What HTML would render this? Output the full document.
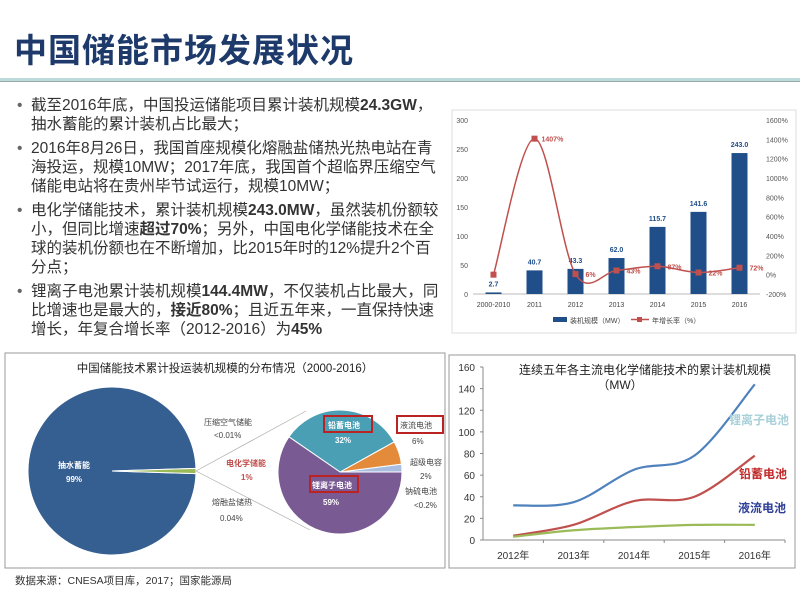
<!DOCTYPE html>
<html><head><meta charset="utf-8"><style>
body{margin:0;width:800px;height:600px;overflow:hidden;background:#fff;font-family:"Liberation Sans","Noto Sans CJK SC",sans-serif;position:relative}
.title{position:absolute;left:14px;top:24px;font-size:33px;font-weight:bold;color:#1d3a6b;letter-spacing:1px}
.rule{position:absolute;left:0;top:78px;width:800px;height:3px;background:#bcd9dc;border-bottom:1px solid #9aa}
.bullets{position:absolute;left:17px;top:96px;width:428px;font-size:15.5px;line-height:19px;color:#333}
.b{position:relative;padding-left:14px;margin-bottom:5px}
.b:before{content:"•";position:absolute;left:0;top:0;color:#666}
.src{position:absolute;left:15px;top:573px;font-size:10.5px;color:#333}
svg text{font-family:"Liberation Sans","Noto Sans CJK SC",sans-serif}
</style></head><body>
<div class="title">中国储能市场发展状况</div>
<div class="rule"></div>
<div class="bullets">
<div class="b">截至2016年底，中国投运储能项目累计装机规模<b>24.3GW</b>，抽水蓄能的累计装机占比最大；</div>
<div class="b">2016年8月26日，我国首座规模化熔融盐储热光热电站在青海投运，规模10MW；2017年底，我国首个超临界压缩空气储能电站将在贵州毕节试运行，规模10MW；</div>
<div class="b">电化学储能技术，累计装机规模<b>243.0MW</b>，虽然装机份额较小，但同比增速<b>超过70%</b>；另外，中国电化学储能技术在全球的装机份额也在不断增加，比2015年时的12%提升2个百分点；</div>
<div class="b">锂离子电池累计装机规模<b>144.4MW</b>，不仅装机占比最大，同比增速也是最大的，<b>接近80%</b>；且近五年来，一直保持快速增长，年复合增长率（2012-2016）为<b>45%</b></div>
</div>
<svg id="bar" width="800" height="600" style="position:absolute;left:0;top:0">
<rect x="452" y="110" width="344" height="223" fill="none" stroke="#ddd"/>
</svg>
<svg id="pie" width="800" height="600" style="position:absolute;left:0;top:0">
<rect x="5" y="353" width="440" height="215" fill="none" stroke="#999"/>
<text x="225" y="372" font-size="11.5" text-anchor="middle" fill="#222">中国储能技术累计投运装机规模的分布情况（2000-2016）</text>
</svg>
<svg id="line" width="800" height="600" style="position:absolute;left:0;top:0">
<rect x="449" y="355" width="346" height="213" fill="none" stroke="#999"/>
<text x="645" y="374" font-size="12" text-anchor="middle" fill="#222">连续五年各主流电化学储能技术的累计装机规模</text>
<text x="620" y="389" font-size="12" text-anchor="middle" fill="#222">（MW）</text>
</svg>
<div class="src">数据来源：CNESA项目库，2017；国家能源局</div>
<script>
// Bar chart data
const barCats=["2000-2010","2011","2012","2013","2014","2015","2016"];
const barVals=[2.7,40.7,43.3,62.0,115.7,141.6,243.0];
const growthVals=[0,1407,6,43,87,22,72];
const leftTicks=[0,50,100,150,200,250,300];
const rightTicks=[-200,0,200,400,600,800,1000,1200,1400,1600];
// Pie data
const bigLabels=["抽水蓄能","电化学储能"];
const bigVals=[99,1];
const smallLabels=["超级电容","液流电池","铅蓄电池","锂离子电池"];
const smallVals=[2,6,32,59];
// Line chart data
const years=["2012年","2013年","2014年","2015年","2016年"];
const liIon=[32,35,65,78,144];
const lead=[4,14,36,40,78];
const flow=[3,9,12,14,14];
const lineTicks=[0,20,40,60,80,100,120,140,160];
const NS="http://www.w3.org/2000/svg";
function mk(svg,tag,a,txt){const e=document.createElementNS(NS,tag);for(const k in a)e.setAttribute(k,a[k]);if(txt!==undefined)e.textContent=txt;svg.appendChild(e);return e;}
function smooth(p){let d="M"+p[0][0]+","+p[0][1];for(let i=0;i<p.length-1;i++){const p0=p[i-1]||p[i],p1=p[i],p2=p[i+1],p3=p[i+2]||p2;const t=6;d+=" C"+(p1[0]+(p2[0]-p0[0])/t)+","+(p1[1]+(p2[1]-p0[1])/t)+" "+(p2[0]-(p3[0]-p1[0])/t)+","+(p2[1]-(p3[1]-p1[1])/t)+" "+p2[0]+","+p2[1];}return d;}
// ---- bar chart
(function(){const s=document.getElementById('bar');
const x0=473,x1=760,yb=294,yt=120;
const yL=v=>yb-(v/300)*(yb-yt);const yR=v=>yb-((v+200)/1800)*(yb-yt);
const bw=(x1-x0)/barCats.length;const cx=i=>x0+bw*(i+0.5);
leftTicks.forEach(t=>{const e=mk(s,'text',{x:468,y:yL(t)+3,'font-size':7,'text-anchor':'end',fill:'#555'},t);});
rightTicks.forEach(t=>{const e=mk(s,'text',{x:766,y:yR(t)+3,'font-size':7,fill:'#555'},t+'%');});
mk(s,'line',{x1:x0,x2:x1,y1:yb,y2:yb,stroke:'#bbb'});
barCats.forEach((c,i)=>{const v=barVals[i];
const r=mk(s,'rect',{x:cx(i)-8,y:yL(v),width:16,height:yb-yL(v),fill:'#1f4e89'});
const l=mk(s,'text',{x:cx(i),y:yL(v)-6,'font-size':7,'font-weight':'bold','text-anchor':'middle',fill:'#1f4e89'},v.toFixed(1));
const cl=mk(s,'text',{x:cx(i),y:307,'font-size':7,'text-anchor':'middle',fill:'#444'},c);});
const pts=growthVals.map((v,i)=>[cx(i),yR(v)]);
const p=mk(s,'path',{d:smooth(pts),fill:'none',stroke:'#c0504d','stroke-width':1.5});
growthVals.forEach((v,i)=>{const m=mk(s,'rect',{x:pts[i][0]-3,y:pts[i][1]-3,width:6,height:6,fill:'#c0504d'});
if(i>0){const t=mk(s,'text',{x:pts[i][0]+(i==1?7:10),y:pts[i][1]+3,'font-size':7,'font-weight':'bold',fill:'#c0504d'},v+'%');}});
const lg1=mk(s,'rect',{x:553,y:317,width:14,height:5,fill:'#1f4e89'});
const lt1=mk(s,'text',{x:570,y:323,'font-size':7,fill:'#444'},'装机规模（MW）');
mk(s,'line',{x1:631,x2:649,y1:319.5,y2:319.5,stroke:'#c0504d','stroke-width':1.5});mk(s,'rect',{x:637,y:317,width:5,height:5,fill:'#c0504d'});
const lt2=mk(s,'text',{x:652,y:323,'font-size':7,fill:'#444'},'年增长率（%）');
})();
// ---- pie chart
(function(){const s=document.getElementById('pie');
function arc(cx,cy,r,a0,a1,fill,name){const rad=a=>a*Math.PI/180;const p0=[cx+r*Math.cos(rad(a0)),cy-r*Math.sin(rad(a0))],p1=[cx+r*Math.cos(rad(a1)),cy-r*Math.sin(rad(a1))];const lg=(a1-a0)>180?1:0;
const e=mk(s,'path',{d:`M${cx},${cy} L${p0[0]},${p0[1]} A${r},${r} 0 ${lg} 0 ${p1[0]},${p1[1]} Z`,fill:fill,stroke:'#fff','stroke-width':1});}
const bt=bigVals.reduce((a,b)=>a+b,0);const smallDeg=bigVals[1]/bt*360;
arc(112,471,84,smallDeg/2,360-smallDeg/2,'#365f91','slice-pumped-hydro');
arc(112,471,84,-smallDeg/2,smallDeg/2,'#9bbb59','slice-electrochemical');
const cols=['#a9bde0','#e38b3a','#4a9fb5','#7a5a93'];const st=smallVals.reduce((a,b)=>a+b,0);let a=0;
smallVals.forEach((v,i)=>{const d=i==smallVals.length-1?360-a:v/st*360;arc(340,472,62,a,a+d,cols[i],'slice-'+smallLabels[i]);a+=d;});
mk(s,'line',{x1:196,y1:471,x2:306,y2:411,stroke:'#aaa','stroke-width':0.7});mk(s,'line',{x1:196,y1:471,x2:310,y2:530,stroke:'#aaa','stroke-width':0.7});
const T=(x,y,t,o,n)=>{const e=mk(s,'text',Object.assign({x:x,y:y,'font-size':8,fill:'#444'},o||{}),t);};
T(58,468,'抽水蓄能',{fill:'#fff','font-weight':'bold'},'label-pumped');T(66,482,'99%',{fill:'#fff','font-weight':'bold'},'label-pumped-pct');
T(204,425,'压缩空气储能',{},'label-caes');T(214,438,'<0.01%',{},'label-caes-pct');
T(212,505,'熔融盐储热',{},'label-salt');T(220,521,'0.04%',{},'label-salt-pct');
T(226,466,'电化学储能',{fill:'#c0504d','font-weight':'bold'},'label-electrochem');T(241,480,'1%',{fill:'#c0504d','font-weight':'bold'},'label-electrochem-pct');
mk(s,'rect',{x:324,y:416,width:48,height:16,fill:'none',stroke:'#b22','stroke-width':2});T(328,428,'铅蓄电池',{fill:'#fff','font-weight':'bold'},'label-lead');T(335,443,'32%',{fill:'#fff','font-weight':'bold'},'label-lead-pct');
mk(s,'rect',{x:310,y:476,width:48,height:16,fill:'none',stroke:'#b22','stroke-width':2});T(312,488,'锂离子电池',{fill:'#fff','font-weight':'bold'},'label-li');T(323,505,'59%',{fill:'#fff','font-weight':'bold'},'label-li-pct');
mk(s,'rect',{x:397,y:416,width:46,height:17,fill:'none',stroke:'#b22','stroke-width':2});T(400,428,'液流电池',{},'label-flow');T(412,444,'6%',{},'label-flow-pct');
T(410,465,'超级电容',{},'label-supercap');T(420,479,'2%',{},'label-supercap-pct');
T(405,494,'钠硫电池',{},'label-nas');T(414,508,'<0.2%',{},'label-nas-pct');
})();
// ---- line chart
(function(){const s=document.getElementById('line');
const x0=483,x1=785,yb=540,yt=367;const y=v=>yb-v/160*(yb-yt);const bw=(x1-x0)/years.length;const cx=i=>x0+bw*(i+0.5);
mk(s,'line',{x1:x0,x2:x0,y1:yt,y2:yb,stroke:'#888'});mk(s,'line',{x1:x0,x2:x1,y1:yb,y2:yb,stroke:'#888'});
lineTicks.forEach(t=>{mk(s,'line',{x1:x0-3,x2:x0,y1:y(t),y2:y(t),stroke:'#888'});const e=mk(s,'text',{x:x0-8,y:y(t)+4,'font-size':10,'text-anchor':'end',fill:'#333'},t);});
years.forEach((c,i)=>{mk(s,'line',{x1:x0+bw*(i+1),x2:x0+bw*(i+1),y1:yb,y2:yb+3,stroke:'#888'});const e=mk(s,'text',{x:cx(i),y:yb+19,'font-size':10,'text-anchor':'middle',fill:'#333'},c);});
[[liIon,'#4f81bd','li-ion-line'],[lead,'#c0504d','lead-acid-line'],[flow,'#9bbb59','flow-battery-line']].forEach(([d,c,n])=>{const e=mk(s,'path',{d:smooth(d.map((v,i)=>[cx(i),y(v)])),fill:'none',stroke:c,'stroke-width':2.2});});
const L=(x,yy,t,c,n)=>{const e=mk(s,'text',{x:x,y:yy,'font-size':12,'font-weight':'bold',fill:c},t);};
L(729,424,'锂离子电池','#a8d0d8','label-li-ion');L(739,478,'铅蓄电池','#c0282a','label-lead-acid');L(738,512,'液流电池','#2e3f99','label-flow');
})();
</script>
</body></html>
